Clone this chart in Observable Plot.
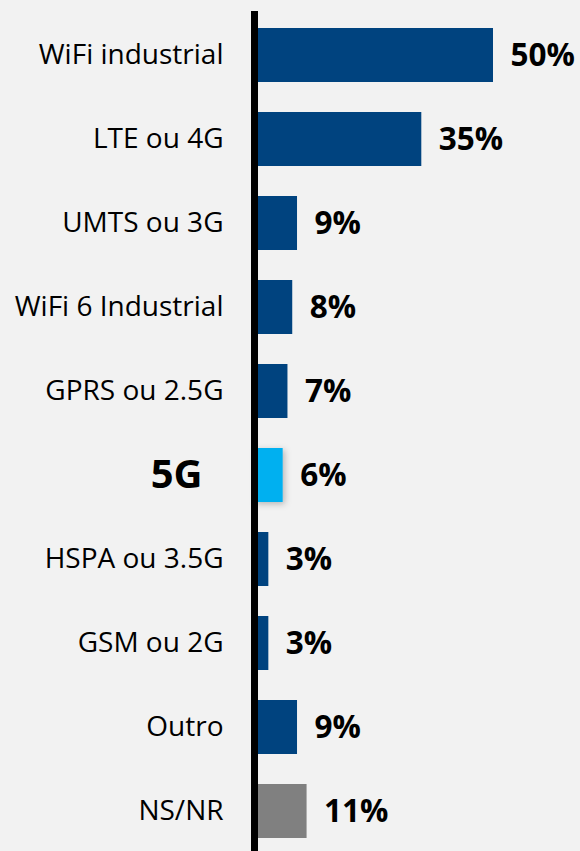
<!DOCTYPE html>
<html>
<head>
<meta charset="utf-8">
<script src="https://cdn.jsdelivr.net/npm/d3@7"></script>
<script src="https://cdn.jsdelivr.net/npm/@observablehq/plot@0.6"></script>
<style>
  html, body { margin: 0; padding: 0; background: #f2f2f2; }
  #chart { width: 580px; height: 851px; }
</style>
</head>
<body>
<div id="chart"></div>
<script>
const categories = ["WiFi industrial", "LTE ou 4G", "UMTS ou 3G", "WiFi 6 Industrial", "GPRS ou 2.5G", "5G", "HSPA ou 3.5G", "GSM ou 2G", "Outro", "NS/NR"];
const values = [50, 35, 9, 8, 7, 6, 3, 3, 9, 11];
const valueLabels = ["50%", "35%", "9%", "8%", "7%", "6%", "3%", "3%", "9%", "11%"];
const highlight = "5G";
const noAnswer = "NS/NR";

const data = categories.map((c, i) => ({category: c, value: values[i], label: valueLabels[i]}));

const BLUE = "#00437f", LIGHT = "#00b0f0", GRAY = "#808080";
const fillOf = d => d.category === highlight ? LIGHT : d.category === noAnswer ? GRAY : BLUE;

const chart = Plot.plot({
  width: 580,
  height: 851,
  marginLeft: 254,
  marginRight: 0,
  marginTop: 11,
  marginBottom: 0,
  style: {background: "#f2f2f2", fontFamily: "'Open Sans', sans-serif", color: "#000"},
  x: {domain: [0, 50], range: [254, 493], axis: null},
  y: {domain: categories, range: [-5, 871], padding: 0.354, axis: null},
  marks: [
    Plot.barX(data.filter(d => d.category !== highlight), {x: "value", y: "category", fill: fillOf}),
    Plot.barX(data.filter(d => d.category === highlight), {x: "value", y: "category", fill: fillOf, className: "hl"}),
    Plot.ruleX([0], {stroke: "#000", strokeWidth: 7}),
    Plot.text(data.filter(d => d.category !== highlight), {
      x: 0, y: "category", text: "category", textAnchor: "end", dx: -31,
      fontSize: 28, fill: "#000"
    }),
    Plot.text(data.filter(d => d.category === highlight), {
      x: 0, y: "category", text: "category", textAnchor: "end", dx: -52,
      fontSize: 40, fontWeight: "bold", fill: "#000"
    }),
    Plot.text(data, {
      x: "value", y: "category", text: "label", textAnchor: "start", dx: 17,
      fontSize: 31.5, fontWeight: "bold", fill: "#000"
    })
  ]
});

const svg = d3.select(chart);
const defs = svg.insert("defs", ":first-child");
const f = defs.append("filter").attr("id", "sh").attr("x", "-30%").attr("y", "-30%").attr("width", "160%").attr("height", "160%");
f.append("feDropShadow").attr("dx", 2).attr("dy", 2).attr("stdDeviation", 3).attr("flood-color", "#000").attr("flood-opacity", 0.25);
svg.selectAll(".hl rect").attr("filter", "url(#sh)");

document.getElementById("chart").appendChild(chart);
</script>
</body>
</html>
